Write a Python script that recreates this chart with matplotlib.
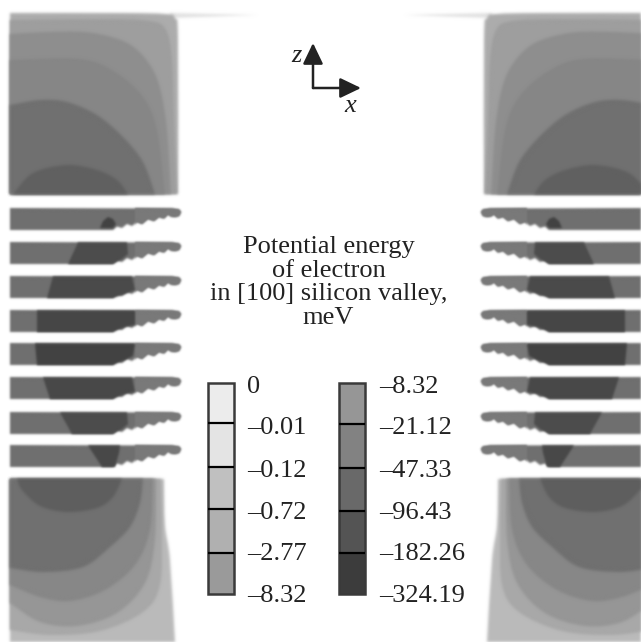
import numpy as np
import matplotlib
matplotlib.use("Agg")
import matplotlib.pyplot as plt
from matplotlib.patches import PathPatch, Rectangle
from matplotlib.path import Path

plt.rcParams['font.family'] = ['Liberation Serif', 'DejaVu Serif']

W, H = 641, 642
MIRROR = 662

# ---- Legend data
legend_left_labels = ['0', '–0.01', '–0.12', '–0.72', '–2.77', '–8.32']
legend_right_labels = ['–8.32', '–21.12', '–47.33', '–96.43', '–182.26', '–324.19']
legend_left_grays = [236, 228, 192, 176, 154]
legend_right_grays = [150, 130, 105, 84, 60]
legend_left_edges = [383, 423, 467, 509, 553, 594]
legend_right_edges = [383, 424, 468, 511, 553, 594]
legend_label_y = [387, 428, 471, 513, 554, 596]

title_lines = ['Potential energy', 'of electron', 'in [100] silicon valley,', 'meV']
title_y = [247, 271, 294, 318]

# ---- Upper electrode: (gray, contour curve, closing corners)
top_regions = [
    (172, [(10, 13), (120, 13), (165, 14), (175, 18), (178, 40), (178, 194)], [(10, 194)]),
    (158, [(10, 20), (100, 19), (150, 21), (166, 30), (172, 60), (174, 120), (177, 194)], [(10, 194)]),
    (142, [(10, 34), (45, 32), (85, 32), (115, 38), (135, 48), (152, 68), (161, 92), (167, 130), (171, 194)], [(10, 194)]),
    (134, [(10, 60), (80, 59), (115, 72), (143, 97), (157, 130), (165, 194)], [(10, 194)]),
    (112, [(10, 105), (40, 100), (67, 102), (97, 115), (123, 137), (143, 162), (155, 194)], [(10, 194)]),
    (96, [(13, 194), (33, 173), (67, 165), (97, 170), (117, 180), (128, 194)], []),
]
top_strip_gray = 225
top_strip = [(170, 13), (258, 15), (170, 18)]

# ---- Lower electrode: (gray, contour curve, closing corners)
bottom_regions = [
    (186, [(164, 479), (165, 525), (170, 560), (175, 642)], [(10, 642), (10, 479)]),
    (168, [(161, 479), (162, 530), (160, 585), (143, 612), (100, 631), (50, 635), (10, 630)], [(10, 479)]),
    (150, [(156, 479), (155, 540), (145, 583), (117, 613), (77, 626), (40, 622), (10, 603)], [(10, 479)]),
    (135, [(153, 479), (150, 530), (135, 565), (105, 590), (70, 601), (40, 597), (10, 585)], [(10, 479)]),
    (112, [(143, 479), (140, 503), (130, 527), (110, 547), (83, 567), (43, 572), (10, 568)], [(10, 479)]),
    (94, [(122, 479), (113, 497), (97, 508), (67, 512), (40, 506), (22, 490), (17, 479)], []),
]

# ---- Fins: top edge, outline, dark core outlines (x, depth below the fin top)
fin_tops = [208, 242, 276, 310, 343, 377, 412, 445]
fin_base_gray = 110
fin_tip_gray = 122
fin_core_gray = [66, 76, 74, 70, 66, 72, 76, 72]
fin_outline_x = [10, 113, 117, 122, 127, 132, 137, 142, 148, 154, 159, 164, 168, 171, 175, 179, 181, 179, 172, 10]
fin_outline_y = [22, 22, 18.5, 20, 16, 18, 14, 16, 11, 13, 9, 10.5, 6.5, 8.5, 9, 8, 4, 1.5, 0.5, 0]
fin_tip_x = [135, 137, 142, 148, 154, 159, 164, 168, 171, 175, 179, 181, 179, 172, 135]
fin_tip_y = [16.5, 14, 16, 11, 13, 9, 10.5, 6.5, 8.5, 9, 8, 4, 1.5, 0.5, 0]
fin_core_outlines = [
    [(100, 20), (103, 13), (108, 9), (113, 11), (116, 16), (113, 20)],
    [(78, 0.5), (127, 0.5), (128, 12), (122, 17), (113, 22), (68, 22)],
    [(53, 0.5), (132, 0.5), (135, 14), (125, 18), (113, 22), (47, 22)],
    [(37, 0.5), (135, 0.5), (135, 15), (125, 17), (113, 22), (37, 22)],
    [(35, 0.5), (135, 0.5), (133, 13), (125, 17), (113, 22), (37, 22)],
    [(43, 0.5), (132, 0.5), (135, 15), (125, 17), (113, 22), (50, 22)],
    [(60, 0.5), (127, 0.5), (128, 12), (122, 17), (113, 22), (72, 22)],
    [(88, 0.5), (120, 0.5), (119, 8), (115, 22), (102, 22)],
]


def blur_filter(sigma):
    radius = int(3 * sigma + 1)
    kernel = np.exp(-0.5 * (np.arange(-radius, radius + 1) / sigma) ** 2)
    kernel /= kernel.sum()

    def conv(a):
        a = np.apply_along_axis(lambda v: np.convolve(v, kernel, mode='same'), 0, a)
        return np.apply_along_axis(lambda v: np.convolve(v, kernel, mode='same'), 1, a)

    def flt(img, dpi):
        pad = radius + 2
        p = np.pad(img, ((pad, pad), (pad, pad), (0, 0)))
        alpha = conv(p[..., 3])
        out = np.zeros_like(p)
        for c in range(3):
            val = conv(p[..., c] * p[..., 3])
            out[..., c] = np.where(alpha > 1e-3, val / np.maximum(alpha, 1e-3), 0)
        out[..., 3] = alpha
        return out, -pad, -pad
    return flt


def gray(v):
    return (v / 255, v / 255, v / 255)


def smooth_path(curve, corners, mirror):
    """Bezier curve through the contour points, closed by straight lines."""
    c = np.asarray(curve, dtype=float)
    verts = [c[0]]
    codes = [Path.MOVETO]
    for i in range(len(c) - 1):
        p0 = c[max(i - 1, 0)]
        p1, p2 = c[i], c[i + 1]
        p3 = c[min(i + 2, len(c) - 1)]
        verts += [p1 + (p2 - p0) / 6, p2 - (p3 - p1) / 6, p2]
        codes += [Path.CURVE4] * 3
    for q in corners:
        verts.append(np.asarray(q, dtype=float))
        codes.append(Path.LINETO)
    verts.append(c[0])
    codes.append(Path.CLOSEPOLY)
    verts = np.array(verts)
    if mirror:
        verts[:, 0] = MIRROR - verts[:, 0]
    return Path(verts, codes)


def straight_path(pts, mirror):
    v = np.array(list(pts) + [pts[0]], dtype=float)
    if mirror:
        v[:, 0] = MIRROR - v[:, 0]
    return Path(v, [Path.MOVETO] + [Path.LINETO] * (len(pts) - 1) + [Path.CLOSEPOLY])


def add(ax, path, g, z, sigma=1.4):
    p = PathPatch(path, facecolor=gray(g), edgecolor='none', zorder=z)
    p.set_agg_filter(blur_filter(sigma))
    ax.add_patch(p)


fig = plt.figure(figsize=(W / 100, H / 100), dpi=100, facecolor='white')
ax = fig.add_axes([0, 0, 1, 1])
ax.set_xlim(0, W)
ax.set_ylim(H, 0)
ax.axis('off')

for mirror in (False, True):
    z = 1
    add(ax, straight_path(top_strip, mirror), top_strip_gray, z)
    for g, curve, corners in top_regions + bottom_regions:
        z += 0.01
        add(ax, smooth_path(curve, corners, mirror), g, z)
    for i, top in enumerate(fin_tops):
        add(ax, straight_path([(x, top + y) for x, y in zip(fin_outline_x, fin_outline_y)], mirror),
            fin_base_gray, 2, sigma=1.1)
        add(ax, straight_path([(x, top + y) for x, y in zip(fin_tip_x, fin_tip_y)], mirror),
            fin_tip_gray, 2.01, sigma=1.1)
        add(ax, straight_path([(x, top + y) for x, y in fin_core_outlines[i]], mirror),
            fin_core_gray[i], 2.02, sigma=1.1)

# ---- Legend
for x0, x1, edges, grays in ((208, 234, legend_left_edges, legend_left_grays),
                             (339, 365, legend_right_edges, legend_right_grays)):
    for g, y0, y1 in zip(grays, edges[:-1], edges[1:]):
        ax.add_patch(Rectangle((x0, y0), x1 - x0, y1 - y0, facecolor=gray(g), edgecolor='none', zorder=3))
    ax.add_patch(Rectangle((x0, edges[0]), x1 - x0, edges[-1] - edges[0], fill=False,
                           edgecolor='#3a3a3a', linewidth=1.8, zorder=4))
    for y in edges[1:-1]:
        ax.plot([x0, x1], [y, y], color='black', linewidth=1.6, solid_capstyle='butt', zorder=4)

for lab, y in zip(legend_left_labels, legend_label_y):
    ax.text(247, y, lab, fontsize=19, color='#222222', va='center', ha='left', zorder=5)
for lab, y in zip(legend_right_labels, legend_label_y):
    ax.text(379, y, lab, fontsize=19, color='#222222', va='center', ha='left', zorder=5)

for line, y in zip(title_lines, title_y):
    ax.text(328.5, y, line, fontsize=19, color='#222222', va='center', ha='center', zorder=5)

# ---- Coordinate axes
for tip in ((313, 43), (361, 88)):
    ax.annotate('', xy=tip, xytext=(313, 88), zorder=5,
                arrowprops=dict(arrowstyle='-|>,head_length=0.75,head_width=0.36', color='#222222',
                                lw=1.8, shrinkA=0, shrinkB=0, mutation_scale=17))
ax.text(296, 56, 'z', fontsize=19, style='italic', color='#222222', ha='center', va='center', zorder=5)
ax.text(350, 106, 'x', fontsize=19, style='italic', color='#222222', ha='center', va='center', zorder=5)

fig.savefig('out.png', dpi=100, facecolor='white')
